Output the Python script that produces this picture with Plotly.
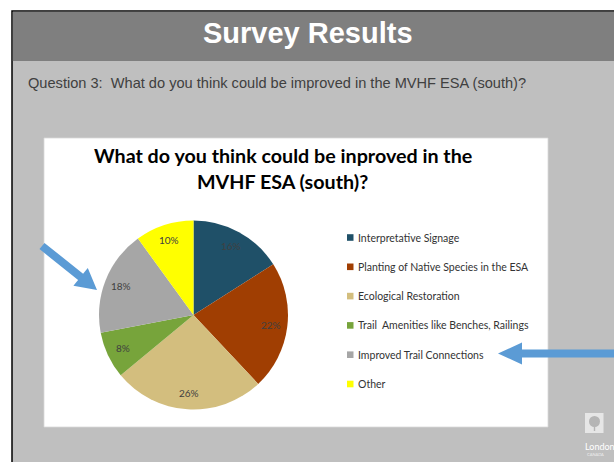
import math
import plotly.graph_objects as go

W, H = 614, 462

header_title = "Survey Results"
question = "Question 3:  What do you think could be improved in the MVHF ESA (south)?"
chart_title = ["What do you think could be inproved in the", "MVHF ESA (south)?"]
labels = ["Interpretative Signage", "Planting of Native Species in the ESA",
          "Ecological Restoration", "Trail  Amenities like Benches, Railings",
          "Improved Trail Connections", "Other"]
values = [16, 22, 26, 8, 18, 10]
colors = ["#1F5068", "#A03E02", "#D3BE7E", "#77A43B", "#A6A6A6", "#FFFF00"]


def px(x):
    return x / W


def py(y):
    return 1 - y / H


shapes = []
annotations = []

# slide background
shapes.append(dict(type="rect", xref="paper", yref="paper", x0=px(12), x1=px(615),
                   y0=py(463), y1=py(11), fillcolor="#BFBFBF",
                   line=dict(color="#000000", width=1.5), layer="below"))
shapes.append(dict(type="rect", xref="paper", yref="paper", x0=px(12.8), x1=px(615),
                   y0=py(61), y1=py(11.8), fillcolor="#7F7F7F", line=dict(width=0),
                   layer="below"))
# chart box
shapes.append(dict(type="rect", xref="paper", yref="paper", x0=px(44), x1=px(548),
                   y0=py(427), y1=py(138), fillcolor="#FFFFFF",
                   line=dict(color="#D9D9D9", width=0.8), layer="below"))

annotations.append(dict(text="<b>" + header_title + "</b>", x=px(308), y=py(33),
                        xref="paper", yref="paper", showarrow=False,
                        xanchor="center", yanchor="middle",
                        font=dict(family="Liberation Sans, Arial", size=29,
                                  color="#FFFFFF")))
annotations.append(dict(text=question, x=px(26), y=py(83), xref="paper", yref="paper",
                        showarrow=False, xanchor="left", yanchor="middle",
                        font=dict(family="Liberation Sans, Arial", size=14.6,
                                  color="#404040")))
for i, line in enumerate(chart_title):
    annotations.append(dict(text="<b>" + line + "</b>", x=px(282.5), y=py(155 + 26 * i),
                            xref="paper", yref="paper", showarrow=False,
                            xanchor="center", yanchor="middle",
                            font=dict(family="Lato, Noto Sans, sans-serif", size=19.7,
                                      color="#000000")))

# legend
leg_y0, leg_dy = 237.5, 29.3
for i, (lab, col) in enumerate(zip(labels, colors)):
    yy = leg_y0 + leg_dy * i
    shapes.append(dict(type="rect", xref="paper", yref="paper", x0=px(347), x1=px(353.5),
                       y0=py(yy + 3.3), y1=py(yy - 3.3), fillcolor=col, line=dict(width=0)))
    annotations.append(dict(text=lab, x=px(356), y=py(yy), xref="paper", yref="paper",
                            showarrow=False, xanchor="left", yanchor="middle",
                            font=dict(family="Lato, Noto Sans, sans-serif", size=10.5,
                                      color="#333333")))


def arrow(x0, y0, x1, y1, hw=4, hhw=11.5, hl=21):
    dx, dy = x1 - x0, y1 - y0
    L = (dx * dx + dy * dy) ** 0.5
    ux, uy = dx / L, dy / L
    nx, ny = -uy, ux
    bx, by = x1 - ux * hl, y1 - uy * hl
    pts = [(x0 + nx * hw, y0 + ny * hw), (bx + nx * hw, by + ny * hw),
           (bx + nx * hhw, by + ny * hhw), (x1, y1),
           (bx - nx * hhw, by - ny * hhw), (bx - nx * hw, by - ny * hw),
           (x0 - nx * hw, y0 - ny * hw)]
    path = "M " + " L ".join(f"{px(a):.5f},{py(b):.5f}" for a, b in pts) + " Z"
    return dict(type="path", xref="paper", yref="paper", path=path,
                fillcolor="#5B9BD5", line=dict(width=0))


shapes.append(arrow(42, 246, 97, 290))
shapes.append(arrow(616, 353.5, 498, 353.5, hw=4, hhw=11, hl=24))

# logo
shapes.append(dict(type="rect", xref="paper", yref="paper", x0=px(585), x1=px(603.5),
                   y0=py(433), y1=py(413), fillcolor="#E6E6E6", line=dict(width=0)))
shapes.append(dict(type="circle", xref="paper", yref="paper", x0=px(589), x1=px(600),
                   y0=py(427), y1=py(416), fillcolor="#B5B5B5", line=dict(width=0)))
shapes.append(dict(type="rect", xref="paper", yref="paper", x0=px(593.8), x1=px(595.2),
                   y0=py(431), y1=py(425), fillcolor="#B5B5B5", line=dict(width=0)))
annotations.append(dict(text="London", x=px(583), y=py(446), xref="paper", yref="paper",
                        showarrow=False, xanchor="left", yanchor="middle",
                        font=dict(family="Lato, sans-serif", size=9, color="#FFFFFF")))
annotations.append(dict(text="CANADA", x=px(585), y=py(454), xref="paper", yref="paper",
                        showarrow=False, xanchor="left", yanchor="middle",
                        font=dict(family="Lato, sans-serif", size=4, color="#EEEEEE")))

cx, cy, r = 193.5, 315, 94.5

# percentage labels placed like the original (outer part of each slice)
total = sum(values)
cum = 0
for v in values:
    theta = 2 * math.pi * (cum + v / 2) / total
    cum += v
    lx = cx + 0.83 * r * math.sin(theta)
    ly = cy - 0.83 * r * math.cos(theta)
    annotations.append(dict(text=f"{v}%", x=px(lx), y=py(ly), xref="paper", yref="paper",
                            showarrow=False, xanchor="center", yanchor="middle",
                            font=dict(family="Lato, Noto Sans, sans-serif", size=10,
                                      color="#404040")))

fig = go.Figure(go.Pie(
    labels=labels, values=values, sort=False, direction="clockwise", rotation=0,
    marker=dict(colors=colors, line=dict(width=0)),
    textinfo="none",
    domain=dict(x=[px(cx - r), px(cx + r)], y=[py(cy + r), py(cy - r)]),
    showlegend=False, hoverinfo="label+percent"))

fig.update_layout(width=W, height=H, margin=dict(l=0, r=0, t=0, b=0),
                  paper_bgcolor="#FFFFFF", plot_bgcolor="#FFFFFF",
                  shapes=shapes, annotations=annotations, showlegend=False)
fig.write_html("out.html")
